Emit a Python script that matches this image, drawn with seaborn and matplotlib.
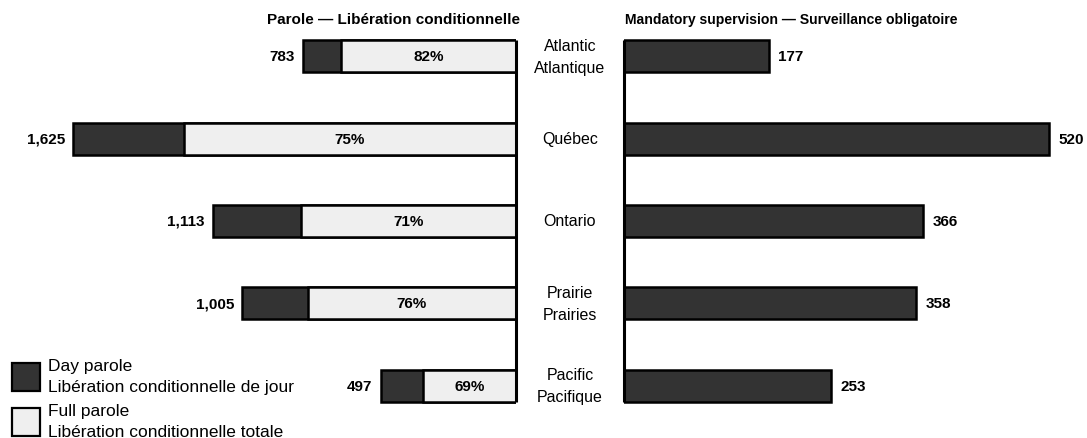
"""Parole and mandatory supervision by region: paired horizontal bars."""

import matplotlib.pyplot as plt
import pandas as pd
import seaborn as sns
from matplotlib.patches import Rectangle

regions = ["Atlantic\nAtlantique", "Québec", "Ontario", "Prairie\nPrairies", "Pacific\nPacifique"]
parole_total = [783, 1625, 1113, 1005, 497]
full_parole_pct = [82, 75, 71, 76, 69]
mandatory_supervision = [177, 520, 366, 358, 253]

DARK = "#333333"
LIGHT = "#efefef"
BAR_H = 0.39

sns.set_theme(style="white")
plt.rcParams["font.family"] = ["Liberation Sans", "DejaVu Sans"]
plt.rcParams["text.color"] = "black"

df = pd.DataFrame(
    {
        "region": regions,
        "total": parole_total,
        "full": [t * p / 100 for t, p in zip(parole_total, full_parole_pct)],
        "ms": mandatory_supervision,
    }
)

fig = plt.figure(figsize=(10.87, 4.39), dpi=100)
fig.patch.set_facecolor("white")

# Panneaux : gauche (liberation conditionnelle) et droite (surveillance obligatoire)
ax_l = fig.add_axes([0.0, 11 / 439, 516 / 1087, 412 / 439])
ax_r = fig.add_axes([624 / 1087, 11 / 439, 463 / 1087, 412 / 439])

bar_kw = dict(orient="h", width=BAR_H, edgecolor="black", linewidth=1.8, saturation=1)

# Barre totale (sombre) puis partie liberation totale (claire) par-dessus
sns.barplot(data=df, x="total", y="region", color=DARK, ax=ax_l, **bar_kw)
sns.barplot(data=df, x="full", y="region", color=LIGHT, ax=ax_l, **bar_kw)
ax_l.set_xlim(1893, 0)

sns.barplot(data=df, x="ms", y="region", color=DARK, ax=ax_r, **bar_kw)
ax_r.set_xlim(0, 567)

for ax in (ax_l, ax_r):
    ax.set_ylim(4.5, -0.5)
    ax.axis("off")
    ax.plot([0, 0], [-BAR_H / 2, 4 + BAR_H / 2], color="black", linewidth=2.2,
            solid_capstyle="butt", zorder=5, clip_on=False)

for i, row in df.iterrows():
    ax_l.text(row["total"] + 30, i, f"{row['total']:,}", ha="right", va="center",
              fontsize=11, fontweight="bold")
    ax_l.text(row["full"] / 2, i, f"{full_parole_pct[i]}%", ha="center", va="center",
              fontsize=11, fontweight="bold")
    ax_r.text(row["ms"] + 12, i, f"{row['ms']}", ha="left", va="center",
              fontsize=11, fontweight="bold")
    fig.text(570 / 1087, ax_l.transData.transform((0, i))[1] / fig.bbox.height,
             row["region"], ha="center", va="center", fontsize=11.5, linespacing=1.55)

fig.text(520 / 1087, 1 - 20 / 439, "Parole — Libération conditionnelle",
         ha="right", va="center", fontsize=11, fontweight="bold")
fig.text(625 / 1087, 1 - 20 / 439, "Mandatory supervision — Surveillance obligatoire",
         ha="left", va="center", fontsize=10.1, fontweight="bold")

# Legende
legend_items = [
    (DARK, 364, "Day parole", "Libération conditionnelle de jour"),
    (LIGHT, 409, "Full parole", "Libération conditionnelle totale"),
]
for color, top, en, fr in legend_items:
    fig.patches.append(
        Rectangle((12 / 1087, 1 - (top + 28) / 439), 28 / 1087, 28 / 439,
                  transform=fig.transFigure, facecolor=color, edgecolor="black",
                  linewidth=1.6)
    )
    fig.text(48 / 1087, 1 - (top + 3) / 439, en, ha="left", va="center", fontsize=12.5)
    fig.text(48 / 1087, 1 - (top + 24) / 439, fr, ha="left", va="center", fontsize=12.5)

fig.savefig("out.png", dpi=100, facecolor="white")
